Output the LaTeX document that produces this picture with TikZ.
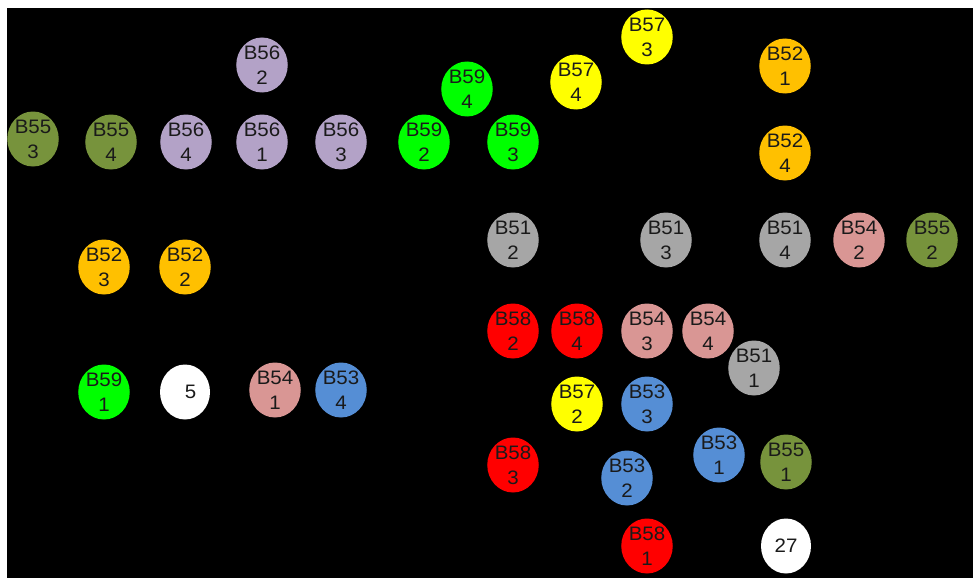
\documentclass[tikz,border=0pt]{standalone}
\usepackage{fontspec}
\setmainfont[FakeStretch=1.05]{Liberation Sans}
\usetikzlibrary{shapes.geometric}
\definecolor{olv}{HTML}{77933C}
\definecolor{lav}{HTML}{B3A2C7}
\definecolor{grn}{HTML}{00FF00}
\definecolor{yel}{HTML}{FFFF00}
\definecolor{org}{HTML}{FFC000}
\definecolor{gry}{HTML}{A6A6A6}
\definecolor{pnk}{HTML}{D99694}
\definecolor{rd}{HTML}{FF0000}
\definecolor{blu}{HTML}{558ED5}
\definecolor{txt}{HTML}{1A1A1A}
\tikzset{
  bub/.style={ellipse, minimum width=50pt, minimum height=55pt, inner sep=0pt,
    align=center, text=txt, font=\fontsize{19.5}{25}\selectfont, fill=#1},
}
\begin{document}
\begin{tikzpicture}[x=1pt,y=-1pt]
\useasboundingbox (0,0) rectangle (974,578);
\fill[white] (0,0) rectangle (974,578);
\fill[black] (7,8) rectangle (973,578);
\node[bub=lav] (b562) at (262,65) {B56\\2};
\node[bub=yel] (b573) at (647,37) {B57\\3};
\node[bub=org] (b521) at (785,66) {B52\\1};
\node[bub=grn] (b594) at (467,89) {B59\\4};
\node[bub=yel] (b574) at (576,82) {B57\\4};
\node[bub=olv] (b553) at (33,139) {B55\\3};
\node[bub=olv] (b554) at (111,142) {B55\\4};
\node[bub=lav] (b564) at (186,142) {B56\\4};
\node[bub=lav] (b561) at (262,142) {B56\\1};
\node[bub=lav] (b563) at (341,142) {B56\\3};
\node[bub=grn] (b592) at (424,142) {B59\\2};
\node[bub=grn] (b593) at (513,142) {B59\\3};
\node[bub=org] (b524) at (785,153) {B52\\4};
\node[bub=gry] (b512) at (513,240) {B51\\2};
\node[bub=gry] (b513) at (666,240) {B51\\3};
\node[bub=gry] (b514) at (785,240) {B51\\4};
\node[bub=pnk] (b542) at (859,240) {B54\\2};
\node[bub=olv] (b552) at (932,240) {B55\\2};
\node[bub=org] (b523) at (104,267) {B52\\3};
\node[bub=org] (b522) at (185,267) {B52\\2};
\node[bub=rd] (b582) at (513,331) {B58\\2};
\node[bub=rd] (b584) at (577,331) {B58\\4};
\node[bub=pnk] (b543) at (647,331) {B54\\3};
\node[bub=pnk] (b544) at (708,331) {B54\\4};
\node[bub=gry] (b511) at (754,368) {B51\\1};
\node[bub=yel] (b572) at (577,404) {B57\\2};
\node[bub=blu] (b533) at (647,404) {B53\\3};
\node[bub=grn] (b591) at (104,392) {B59\\1};
\node[bub=white] (n5) at (185,392) {\hspace*{11pt}5};
\node[bub=pnk] (b541) at (275,390) {B54\\1};
\node[bub=blu] (b534) at (341,390) {B53\\4};
\node[bub=rd] (b583) at (513,465) {B58\\3};
\node[bub=blu] (b532) at (627,478) {B53\\2};
\node[bub=blu] (b531) at (719,455) {B53\\1};
\node[bub=olv] (b551) at (786,462) {B55\\1};
\node[bub=rd] (b581) at (647,546) {B58\\1};
\node[bub=white] (n27) at (786,546) {27};
\end{tikzpicture}
\end{document}
